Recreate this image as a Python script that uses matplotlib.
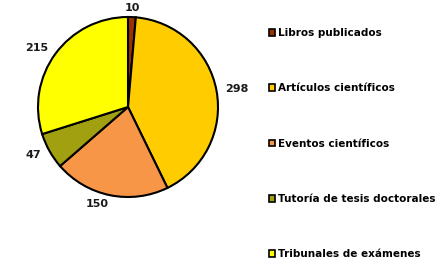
import matplotlib
matplotlib.use("Agg")
import matplotlib.pyplot as plt

categorias = ["Libros publicados", "Artículos científicos", "Eventos científicos",
              "Tutoría de tesis doctorales", "Tribunales de exámenes"]
valores = [10, 298, 150, 47, 215]
colores = ["#993300", "#FFCC00", "#F79646", "#A0A010", "#FFFF00"]

plt.rcParams['font.family'] = ['DejaVu Sans']

fig = plt.figure(figsize=(4.4, 2.66), dpi=100)
# eje del pastel: centro en (128,107) px, radio 90 px
ax = fig.add_axes([15.5 / 440, 46.5 / 266, 225 / 440, 225 / 266])
wedges, texts = ax.pie(valores, labels=[str(v) for v in valores], colors=colores,
                       startangle=90, counterclock=False, labeldistance=1.1,
                       wedgeprops=dict(edgecolor="black", linewidth=1.5),
                       textprops=dict(fontsize=8, fontweight="bold", color="#1a1a1a"))
texts[0].set_ha("center")

leg = fig.legend(wedges, categorias, loc="upper left",
                 bbox_to_anchor=(265 / 440, 1 - 24 / 266), frameon=False,
                 prop=dict(size=7.5, weight="bold"), handlelength=0.6, handleheight=0.6,
                 handletextpad=0.25, labelspacing=4.35, borderaxespad=0)
for h in leg.legend_handles:
    h.set_linewidth(1.2)

fig.savefig("out.png", dpi=100)
